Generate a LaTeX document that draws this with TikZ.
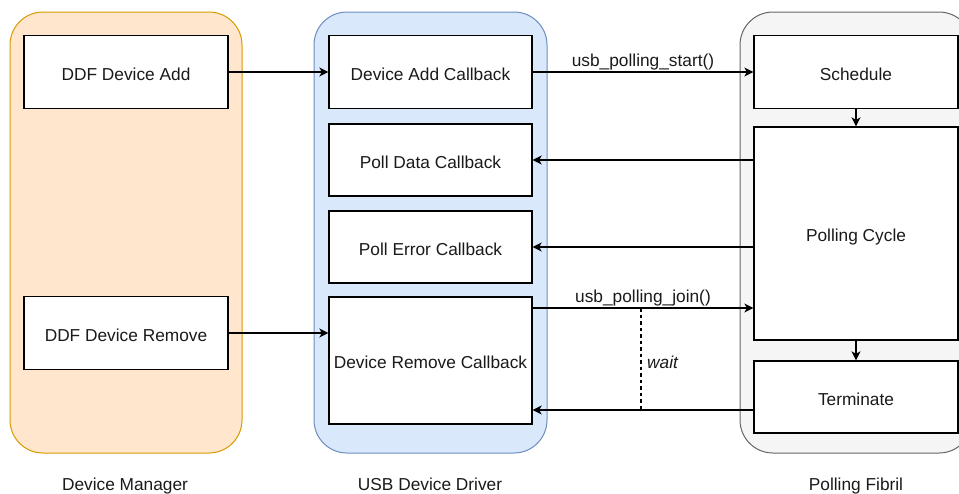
\documentclass[tikz,border=0pt]{standalone}
\usepackage{fontspec}
\setmainfont{Liberation Sans}
\usetikzlibrary{arrows.meta}
\definecolor{mgrfill}{HTML}{FFE6CC}
\definecolor{mgrline}{HTML}{D79B00}
\definecolor{drvfill}{HTML}{DAE8FC}
\definecolor{drvline}{HTML}{6C8EBF}
\definecolor{fibfill}{HTML}{F5F5F5}
\definecolor{fibline}{HTML}{666666}
\definecolor{txt}{HTML}{1A1A1A}
\begin{document}
\begin{tikzpicture}[x=1pt,y=-1pt,
  font=\fontsize{17.3}{20}\selectfont,
  lane/.style={rounded corners=33pt, line width=1pt},
  block/.style={draw=black, fill=white, line width=1.3pt, text=txt,
                text height=16.8pt, text depth=0pt},
  flow/.style={line width=1.3pt, -{Stealth[length=9pt,width=9pt,inset=2.5pt]}},
  caption/.style={anchor=base, text=txt},
  lbl/.style={text=txt, inner sep=0pt},
  call/.style={lbl, anchor=base, yshift=6pt}]
\useasboundingbox (0,0) rectangle (959,493);
\clip (0,0) rectangle (959,493);

% swimlane containers
\draw[lane, fill=mgrfill, draw=mgrline] (10,12) rectangle (242,453);
\draw[lane, fill=drvfill, draw=drvline] (314,12) rectangle (547,453);
\draw[lane, fill=fibfill, draw=fibline] (740,12) rectangle (972,453);

% Device Manager
\node[block, minimum width=204pt, minimum height=73pt] (add) at (126,72) {DDF Device Add};
\node[block, minimum width=204pt, minimum height=73pt] (rem) at (126,333) {DDF Device Remove};

% USB Device Driver
\node[block, minimum width=203pt, minimum height=73pt] (addcb) at (430.5,72) {Device Add Callback};
\node[block, minimum width=203pt, minimum height=72pt] (datacb) at (430.5,160) {Poll Data Callback};
\node[block, minimum width=203pt, minimum height=72pt] (errcb) at (430.5,247) {Poll Error Callback};
\node[block, minimum width=203pt, minimum height=127pt] (remcb) at (430.5,360.5) {Device Remove Callback};

% Polling Fibril
\node[block, minimum width=204pt, minimum height=73pt] (sched) at (856,72) {Schedule};
\node[block, minimum width=204pt, minimum height=213pt] (cycle) at (856,233.5) {Polling Cycle};
\node[block, minimum width=204pt, minimum height=72pt] (term) at (856,397) {Terminate};

% lane captions
\node[caption] (capmgr) at (125,490) {Device Manager};
\node[caption] (capdrv) at (430,490) {USB Device Driver};
\node[caption] (capfib) at (856,490) {Polling Fibril};

% connectors
\draw[flow] (add.east) -- (addcb.west);
\draw[flow] (rem.east) -- (remcb.west |- rem.east);
\draw[flow] (addcb.east) -- node[call] (startlbl) {usb\_polling\_start()} (sched.west);
\draw[flow] (cycle.west |- datacb.east) -- (datacb.east);
\draw[flow] (cycle.west |- errcb.east) -- (errcb.east);
\coordinate (joinsrc) at (remcb.east |- 0,308);
\coordinate (joindst) at (cycle.west |- 0,308);
\draw[flow] (joinsrc) -- node[call] (joinlbl) {usb\_polling\_join()} (joindst);
\coordinate (termsrc) at (term.west |- 0,410);
\coordinate (termdst) at (remcb.east |- 0,410);
\draw[flow] (termsrc) -- (termdst);
\draw[flow] (sched.south) -- (cycle.north);
\draw[flow] (cycle.south) -- (term.north);

% waiting period
\coordinate (waittop) at (641,308);
\coordinate (waitbot) at (641,410);
\draw[line width=1.3pt, dash pattern=on 3.5pt off 3pt] (waittop) -- (waitbot);
\node[lbl, anchor=base west] (waitlbl) at (647,368) {\itshape wait};
\end{tikzpicture}
\end{document}
